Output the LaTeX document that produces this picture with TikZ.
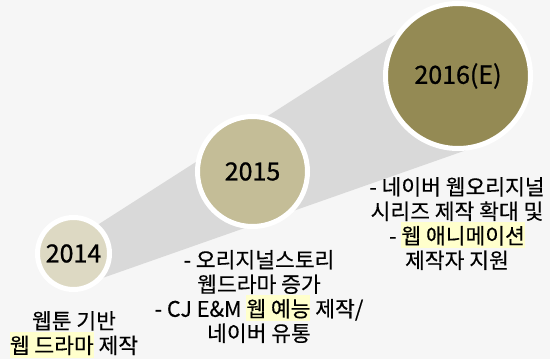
\documentclass[tikz,border=0pt]{standalone}
\usepackage{fontspec}
\setmainfont{Noto Sans CJK KR}[FakeBold=0.3]
\newfontfamily\yearfont{Noto Sans CJK KR}[FakeBold=0.8]
\definecolor{bgc}{HTML}{F6F6F6}
\definecolor{bandc}{HTML}{D9D9D9}
\definecolor{c14}{HTML}{DDD9C3}
\definecolor{c15}{HTML}{C4BD97}
\definecolor{c16}{HTML}{948A54}
\definecolor{hly}{HTML}{FFFFCC}
\newcommand{\hlt}[1]{\begingroup\setlength{\fboxsep}{0pt}\colorbox{hly}{\rule[-4.5pt]{0pt}{26pt}#1}\endgroup}
\tikzset{
  yearring/.style={circle, draw=white, line width=5pt, inner sep=0pt, outer sep=0pt,
    font=\yearfont\fontsize{25}{29}\selectfont, text=black},
  desc/.style={align=center, inner sep=0pt, font=\fontsize{21.5}{24.5}\selectfont, text=black}
}
\begin{document}
\begin{tikzpicture}[x=1pt,y=-1pt]
\useasboundingbox (0,0) rectangle (550,359);
\fill[bgc] (0,0) rectangle (550,359);
\fill[bandc] (74,240) -- (410,25) -- (458,76) -- (478,146) -- (74,288) -- cycle;
\node[yearring, minimum size=72pt, fill=c14] (y14) at (73.5,253.5) {2014};
\node[yearring, minimum size=110pt, fill=c15] (y15) at (252.5,171.5) {2015};
\node[yearring, minimum size=145pt, fill=c16] (y16) at (458,76) {2016(E)};
\node[desc] (d14) at (74,334.5) {웹툰 기반\\\hlt{웹 드라마} 제작};
\node[desc] (d15) at (259,296.5) {- 오리지널스토리\\웹드라마 증가\\- CJ E\&M \hlt{웹 예능} 제작/\\네이버 유통};
\node[desc] (d16) at (457,223.5) {- 네이버 웹오리지널\\시리즈 제작 확대 및\\- \hlt{웹 애니메이션}\\제작자 지원};
\end{tikzpicture}
\end{document}
